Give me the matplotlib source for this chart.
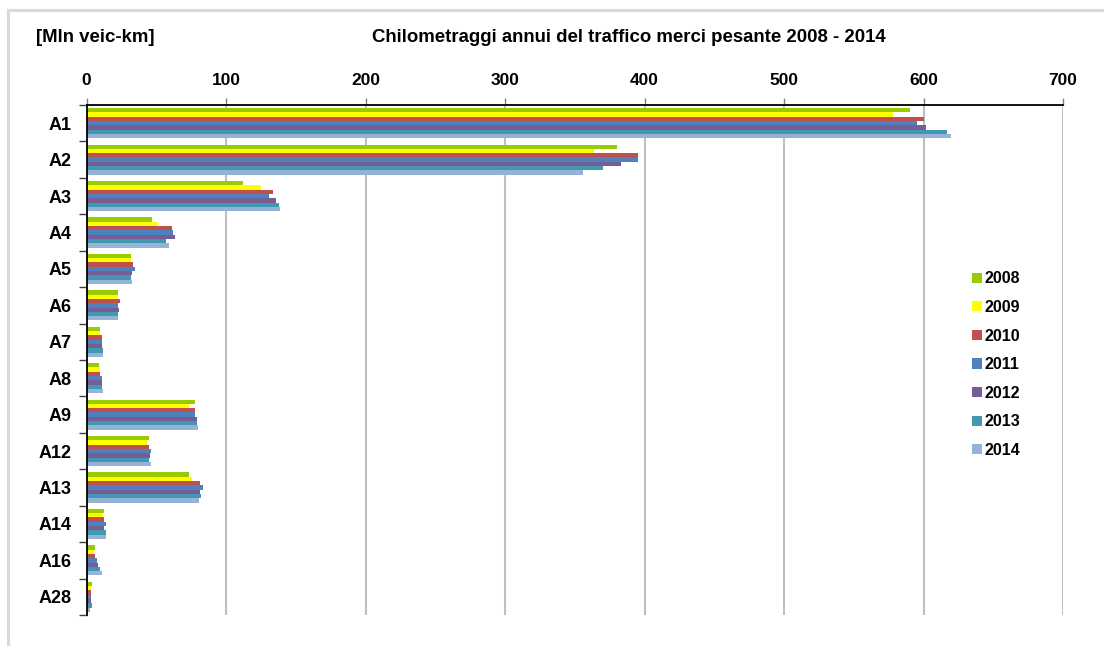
import matplotlib
matplotlib.use("Agg")
import matplotlib.pyplot as plt
import numpy as np
from matplotlib.lines import Line2D

plt.rcParams['font.family'] = ['Liberation Sans', 'DejaVu Sans']
plt.rcParams['font.weight'] = 'bold'

# Tratte autostradali e chilometraggi annui (milioni di veicoli-km)
tratte = ['A1', 'A2', 'A3', 'A4', 'A5', 'A6', 'A7', 'A8', 'A9', 'A12', 'A13', 'A14', 'A16', 'A28']
anni = ['2008', '2009', '2010', '2011', '2012', '2013', '2014']

v2008 = [590, 380, 112, 47, 31.6, 22.5, 10.0, 9.3, 78.0, 44.7, 73.7, 12.2, 6.2, 3.6]
v2009 = [578, 364, 125, 51.6, 31.6, 22.7, 10.0, 9.8, 73.2, 43.5, 75.3, 11.7, 5.7, 3.1]
v2010 = [600, 395, 134, 61.2, 33.2, 23.7, 11.0, 10.0, 77.5, 45.0, 81.5, 12.7, 6.2, 2.9]
v2011 = [595, 395, 131, 62.2, 34.9, 22.9, 11.4, 10.8, 78.0, 46.4, 83.4, 13.9, 7.2, 3.3]
v2012 = [602, 383, 136, 63.6, 32.8, 23.4, 11.4, 11.2, 78.9, 45.7, 81.5, 12.7, 8.6, 3.3]
v2013 = [617, 370, 138, 56.9, 32.0, 22.9, 11.9, 11.0, 78.9, 45.0, 81.8, 13.9, 10.0, 4.0]
v2014 = [620, 356, 139, 59.1, 32.8, 22.9, 11.9, 11.9, 80.1, 45.9, 80.8, 13.9, 11.0, 2.6]
serie = [v2008, v2009, v2010, v2011, v2012, v2013, v2014]

colori = ['#99CC00', '#FFFF00', '#C0504D', '#4F81BD', '#765D96', '#4298B0', '#95B3D7']

fig = plt.figure(figsize=(11.04, 6.46), dpi=100)
W, H = 1104, 646
ax = fig.add_axes([86.5 / W, 1 - 615 / H, (1063 - 86.5) / W, (615 - 105) / H])

# cornice grigia del grafico
fig.add_artist(Line2D([8 / W, 8 / W], [1 - 10 / H, 0], color='#d9d9d9', lw=2.2))
fig.add_artist(Line2D([8 / W, 1], [1 - 10 / H, 1 - 10 / H], color='#d9d9d9', lw=2.2))

y = np.arange(len(tratte))
h = 0.118
for j, (vals, col) in enumerate(zip(serie, colori)):
    ax.barh(y + (j - 3) * h, vals, height=h, color=col, label=anni[j], zorder=3)

ax.set_xlim(0, 700)
ax.set_ylim(len(tratte) - 0.5, -0.5)
ax.set_xticks(range(0, 701, 100))
ax.xaxis.tick_top()
ax.tick_params(axis='x', which='major', length=5, width=1, color='#808080',
               labelsize=12.5, pad=7.5)
ax.grid(axis='x', color='#BFBFBF', lw=1.5, zorder=0)

# etichette al centro, tacche ai confini delle categorie
ax.set_yticks(y)
ax.set_yticklabels(tratte, fontsize=13)
ax.set_yticks(np.arange(len(tratte) + 1) - 0.5, minor=True)
ax.tick_params(axis='y', which='major', length=0, pad=11)
ax.tick_params(axis='y', which='minor', length=6, width=1, color='#404040')

for s in ['right', 'bottom']:
    ax.spines[s].set_visible(False)
ax.spines['left'].set_color('black')
ax.spines['top'].set_color('black')
ax.spines['left'].set_linewidth(1.3)
ax.spines['top'].set_linewidth(1.3)
ax.spines['left'].set_zorder(4)

leg = ax.legend(loc='upper left', bbox_to_anchor=(966 / W, 1 - 265 / H),
                bbox_transform=fig.transFigure, frameon=False, fontsize=11.5,
                handlelength=0.6, handleheight=0.6, handletextpad=0.15,
                labelspacing=0.85, borderaxespad=0)

fig.text(36 / W, 1 - 37 / H, '[Mln veic-km]', fontsize=13.4, va='center', ha='left')
fig.text(629 / W, 1 - 37 / H, 'Chilometraggi annui del traffico merci pesante 2008 - 2014',
         fontsize=13.4, va='center', ha='center')

fig.savefig('out.png', dpi=100)
